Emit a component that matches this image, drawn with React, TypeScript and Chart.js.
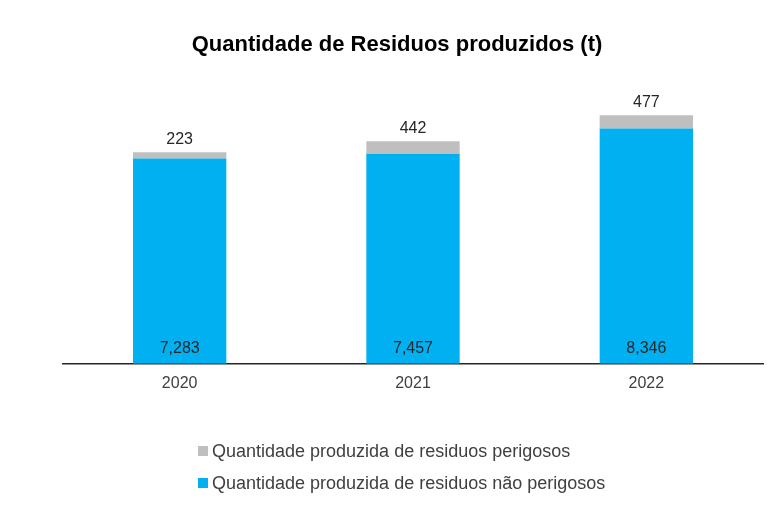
import React, { useEffect, useRef } from "react";
import { Chart, registerables } from "chart.js";

Chart.register(...registerables);

const TITLE = "Quantidade de Residuos produzidos (t)";
const YEARS = ["2020", "2021", "2022"];
const NAO_PERIGOSOS = [7283, 7457, 8346];
const PERIGOSOS = [223, 442, 477];
const LABEL_PERIGOSOS = "Quantidade produzida de residuos perigosos";
const LABEL_NAO_PERIGOSOS = "Quantidade produzida de residuos não perigosos";
const BLUE = "#00B0F0";
const GRAY = "#BFBFBF";
const FONT = "'Liberation Sans', Arial, sans-serif";

const fmt = (v: number) => v.toLocaleString("en-US");

const customPlugin = {
  id: "custom",
  afterDatasetsDraw(chart: any) {
    const ctx = chart.ctx;
    const base = chart.chartArea.bottom;
    ctx.save();
    ctx.font = `16px ${FONT}`;
    ctx.fillStyle = "#262626";
    ctx.textAlign = "center";
    ctx.textBaseline = "middle";
    chart.getDatasetMeta(0).data.forEach((bar: any, i: number) => {
      ctx.fillText(fmt(NAO_PERIGOSOS[i]), bar.x, base - 15);
    });
    chart.getDatasetMeta(1).data.forEach((bar: any, i: number) => {
      ctx.fillText(fmt(PERIGOSOS[i]), bar.x, bar.y - 13);
    });
    ctx.restore();
  },
  afterDraw(chart: any) {
    const ctx = chart.ctx;
    ctx.save();
    // title
    ctx.font = `bold 22px ${FONT}`;
    ctx.fillStyle = "#000000";
    ctx.textAlign = "center";
    ctx.textBaseline = "middle";
    ctx.fillText(TITLE, 397, 45);
    // legend
    const items = [
      { label: LABEL_PERIGOSOS, color: GRAY, y: 451 },
      { label: LABEL_NAO_PERIGOSOS, color: BLUE, y: 483 },
    ];
    ctx.font = `18px ${FONT}`;
    ctx.textAlign = "left";
    items.forEach((it) => {
      ctx.fillStyle = it.color;
      ctx.fillRect(198, it.y - 5, 10, 10);
      ctx.fillStyle = "#404040";
      ctx.fillText(it.label, 212, it.y + 1);
    });
    ctx.restore();
  },
};

export default function App() {
  const ref = useRef<HTMLCanvasElement>(null);
  useEffect(() => {
    if (!ref.current) return;
    const chart = new Chart(ref.current, {
      type: "bar",
      data: {
        labels: YEARS,
        datasets: [
          {
            label: LABEL_NAO_PERIGOSOS,
            data: NAO_PERIGOSOS,
            backgroundColor: BLUE,
            barPercentage: 0.4,
            categoryPercentage: 1,
          },
          {
            label: LABEL_PERIGOSOS,
            data: PERIGOSOS,
            backgroundColor: GRAY,
            barPercentage: 0.4,
            categoryPercentage: 1,
          },
        ],
      },
      options: {
        responsive: false,
        animation: false,
        layout: { padding: { top: 82, bottom: 113, left: 63, right: 11 } },
        plugins: {
          legend: { display: false },
          title: { display: false },
          tooltip: { enabled: false },
        },
        scales: {
          x: {
            stacked: true,
            grid: { display: false },
            border: { display: true, color: "#262626", width: 1.5 },
            ticks: {
              color: "#404040",
              font: { family: FONT, size: 16 },
              padding: 2,
            },
          },
          y: {
            stacked: true,
            display: false,
            min: 0,
            max: 10000,
          },
        },
      },
      plugins: [customPlugin],
    });
    return () => chart.destroy();
  }, []);
  return (
    <div style={{ position: "absolute", left: 0, top: 0, width: 774, height: 508, background: "#fff" }}>
      <canvas ref={ref} width={774} height={508} />
    </div>
  );
}
